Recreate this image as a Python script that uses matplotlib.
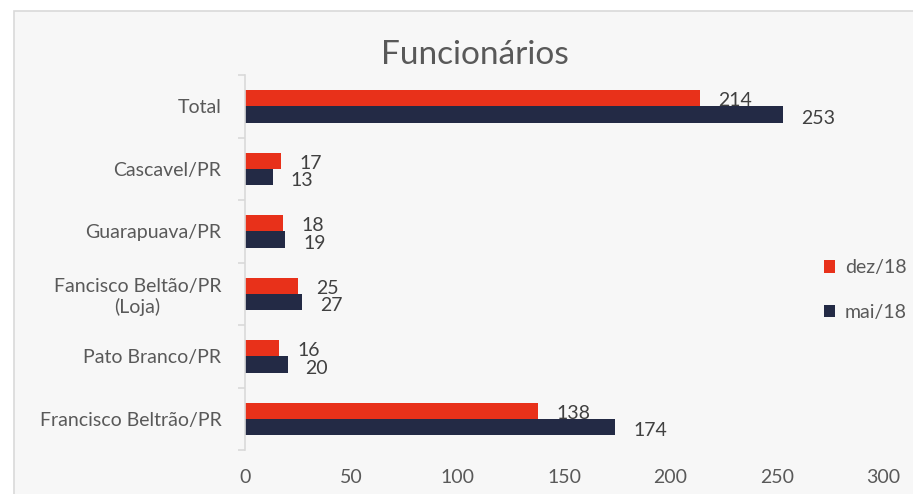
import numpy as np
from matplotlib import pyplot as plt
from matplotlib.patches import Rectangle

# dados (de baixo para cima)
cidades = ['Francisco Beltrão/PR', 'Pato Branco/PR', 'Fancisco Beltão/PR\n(Loja)',
           'Guarapuava/PR', 'Cascavel/PR', 'Total']
dez18 = [138, 16, 25, 18, 17, 214]
mai18 = [174, 20, 27, 19, 13, 253]

vermelho = '#e8311a'
azul = '#232a45'
cinza_txt = '#595959'
cinza_linha = '#d9d9d9'

plt.rcParams['font.family'] = ['Lato', 'DejaVu Sans']

fig = plt.figure(figsize=(9.13, 4.94), dpi=100)
fig.patch.set_facecolor('white')
fundo = Rectangle((14 / 913, -0.1), 1, 1.1 - 11 / 494, transform=fig.transFigure,
                  facecolor='#f7f7f7', edgecolor=cinza_linha, linewidth=1.2, zorder=-10)
fig.patches.append(fundo)

ax = fig.add_axes([245 / 913, 1 - 450 / 494, (883 - 245) / 913, (450 - 75) / 494])
ax.set_facecolor('none')
ax.set_zorder(5)

y = np.arange(len(cidades))
h = 0.26
ax.barh(y + h / 2, dez18, height=h, color=vermelho, label='dez/18')
ax.barh(y - h / 2, mai18, height=h, color=azul, label='mai/18')

for i in range(len(cidades)):
    ax.text(dez18[i] + 8.5, y[i] + h / 2 - 0.04, str(dez18[i]), va='center', ha='left',
            fontsize=14, color='#404040')
    ax.text(mai18[i] + 8.5, y[i] - h / 2 - 0.06, str(mai18[i]), va='center', ha='left',
            fontsize=14, color='#404040')

ax.set_xlim(0, 300)
ax.set_ylim(-0.5, len(cidades) - 0.5)
ax.set_xticks(range(0, 301, 50))
ax.set_yticks(y)
ax.set_yticklabels(cidades, multialignment='center')
ax.set_yticks(np.arange(-0.5, len(cidades), 1), minor=True)
ax.tick_params(axis='y', which='major', length=0, pad=17, labelsize=14, labelcolor=cinza_txt)
ax.tick_params(axis='y', which='minor', length=5, color=cinza_linha, width=1.2)
ax.tick_params(axis='x', length=0, pad=14, labelsize=14, labelcolor=cinza_txt)

for lado in ['top', 'right', 'bottom']:
    ax.spines[lado].set_visible(False)
ax.spines['left'].set_color(cinza_linha)
ax.spines['left'].set_linewidth(1.2)

fig.text(0.52, 1 - 55 / 494, 'Funcionários', ha='center', va='center',
         fontsize=24, color=cinza_txt)

ax.legend(loc='center left', bbox_to_anchor=(806 / 913, 1 - 290 / 494),
          bbox_transform=fig.transFigure, frameon=False, fontsize=14,
          handlelength=0.6, handleheight=0.6, handletextpad=0.5, labelspacing=1.4,
          labelcolor=cinza_txt)

plt.savefig('out.png', dpi=100, facecolor=fig.get_facecolor())
